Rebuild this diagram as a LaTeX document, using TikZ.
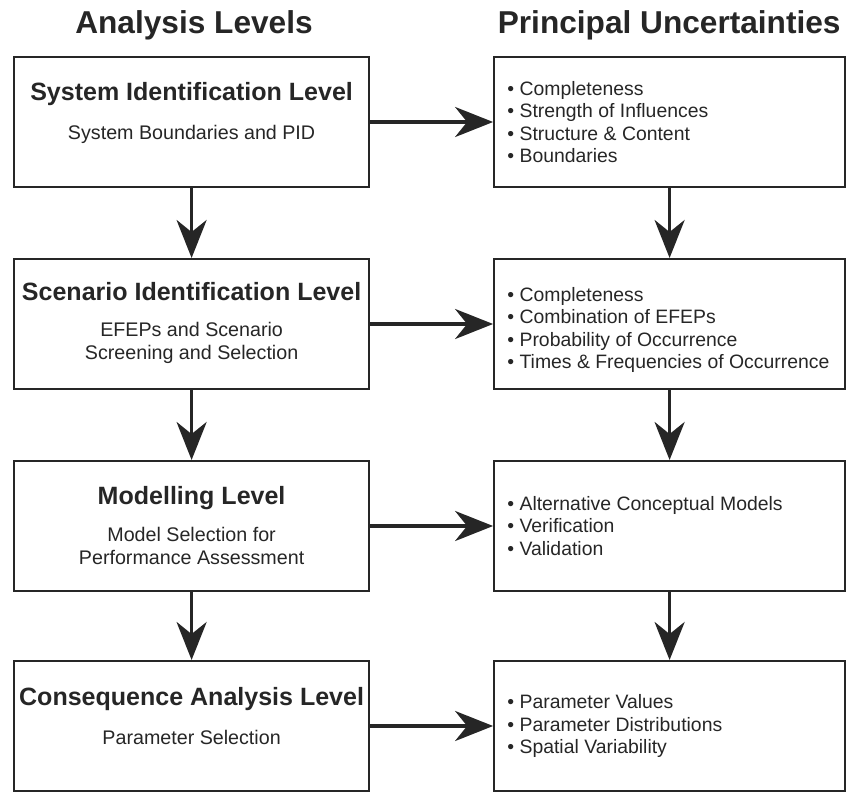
\documentclass[tikz,border=0pt]{standalone}
\usepackage{fontspec}
\setmainfont{Liberation Sans}
\usetikzlibrary{arrows.meta}
\usetikzlibrary{positioning}

\colorlet{ink}{black!85}
\tikzset{
    levelbox/.style={draw=ink, line width=1.4pt, minimum width=8.875cm, minimum height=3.25cm, inner sep=0pt},
    uncbox/.style={draw=ink, line width=1.4pt, minimum width=8.775cm, minimum height=3.25cm, inner sep=0pt},
    heading/.style={font=\fontsize{22.5}{26}\selectfont\bfseries, text=ink, inner sep=0pt, anchor=base},
    leveltitle/.style={font=\fontsize{17.8}{21}\selectfont\bfseries, text=ink, inner sep=0pt, align=center},
    levelsub/.style={font=\fontsize{14}{16.4}\selectfont, text=ink, inner sep=0pt, align=center},
    uncitems/.style={font=\fontsize{13.8}{16}\selectfont, text=ink, inner sep=0pt, align=left},
    flow/.style={draw=ink, line width=2.6pt, -{Stealth[length=0.95cm,width=0.75cm,inset=0.3cm]}},
}

\begin{document}
\begin{tikzpicture}
    \useasboundingbox (0,0) rectangle (21.15,-19.85);
    % column headings
    \node[heading] (lefthead) at (4.85,-0.83) {Analysis Levels};
    \node[heading] (righthead) at (16.73,-0.83) {Principal Uncertainties};
    % analysis levels
    \node[levelbox] (sys) at (4.79,-3.05) {};
    \node[levelbox] (scen) at (4.79,-8.1) {};
    \node[levelbox] (mod) at (4.79,-13.15) {};
    \node[levelbox] (cons) at (4.79,-18.15) {};
    \node[leveltitle, below=0.65cm of sys.north] (systitle) {System Identification Level};
    \node[levelsub, below=1.72cm of sys.north] (syssub) {System Boundaries and PID};
    \node[leveltitle, below=0.6cm of scen.north] (scentitle) {Scenario Identification Level};
    \node[levelsub, below=1.6cm of scen.north] (scensub) {EFEPs and Scenario\\Screening and Selection};
    \node[leveltitle, below=0.65cm of mod.north] (modtitle) {Modelling Level};
    \node[levelsub, below=1.68cm of mod.north] (modsub) {Model Selection for\\Performance Assessment};
    \node[leveltitle, below=0.67cm of cons.north] (constitle) {Consequence Analysis Level};
    \node[levelsub, below=1.75cm of cons.north] (conssub) {Parameter Selection};
    % principal uncertainties
    \node[uncbox] (sysunc) at (16.74,-3.05) {};
    \node[uncbox] (scenunc) at (16.74,-8.1) {};
    \node[uncbox] (modunc) at (16.74,-13.15) {};
    \node[uncbox] (consunc) at (16.74,-18.15) {};
    \node[uncitems, right=0.35cm of sysunc.west] (sysitems) {\textbullet~Completeness\\\textbullet~Strength of Influences\\\textbullet~Structure \& Content\\\textbullet~Boundaries};
    \node[uncitems, right=0.35cm of scenunc.west, yshift=-0.15cm] (scenitems) {\textbullet~Completeness\\\textbullet~Combination of EFEPs\\\textbullet~Probability of Occurrence\\\textbullet~Times \& Frequencies of Occurrence};
    \node[uncitems, right=0.35cm of modunc.west] (moditems) {\textbullet~Alternative Conceptual Models\\\textbullet~Verification\\\textbullet~Validation};
    \node[uncitems, right=0.35cm of consunc.west] (consitems) {\textbullet~Parameter Values\\\textbullet~Parameter Distributions\\\textbullet~Spatial Variability};
    % connectors
    \foreach \a/\b in {sys/scen,scen/mod,mod/cons} {
        \draw[flow] (\a.south) -- (\b.north);
        \draw[flow] (\a unc.south) -- (\b unc.north);
    }
    \foreach \a in {sys,scen,mod,cons} {
        \draw[flow] (\a.east) -- (\a unc.west);
    }
\end{tikzpicture}
\end{document}
